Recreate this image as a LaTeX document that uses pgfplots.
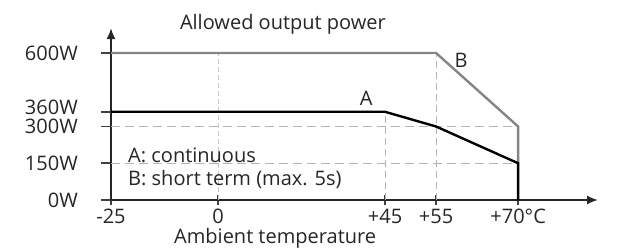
\documentclass[border=0pt]{standalone}
\usepackage{fontspec}
\setmainfont{Open Sans}
\usepackage{pgfplots}
\pgfplotsset{compat=1.18}
\usetikzlibrary{arrows.meta}
\definecolor{lineB}{HTML}{858585}
\definecolor{dashg}{HTML}{B4B4B4}
\begin{document}
\fontsize{20bp}{24bp}\selectfont
\begin{tikzpicture}
\begin{axis}[
  scale only axis, width=487bp, height=172bp,
  x coord trafo/.code={\pgfmathparse{ifthenelse((#1)<=0,((#1)+25)*4.28,ifthenelse((#1)<=45,107+(#1)*3.711,ifthenelse((#1)<=55,274+((#1)-45)*5.1,325+((#1)-55)*5.47)))}},
  xmin=-25, xmax=84.6, ymin=0, ymax=702,
  axis lines=left,
  axis line style={line width=1.8bp, draw=black!85, -{Latex[length=11bp,width=9bp]}},
  xtick={-25,0,45,55,70}, xticklabels={-25,0,+45,+55,+70°C},
  ytick={0,150,300,600},
  yticklabels={0W,150W,300W,600W},
  extra y ticks={360},
  extra y tick labels={360W},
  extra y tick style={yticklabel style={yshift=4bp}},
  major tick length=10bp,
  xtick align=center, ytick align=outside,
  tick style={line width=1.6bp, draw=black!75},
  tick label style={font=\fontsize{20bp}{24bp}\selectfont, text=black!85},
  yticklabel style={xshift=-23bp, anchor=east, inner sep=0pt},
  xticklabel style={yshift=3bp},
  clip=false,
]
\addplot[dashg, line width=1bp, dash pattern=on 9bp off 5bp] coordinates {(-25,300) (70,300)};
\addplot[dashg, line width=1bp, dash pattern=on 9bp off 5bp] coordinates {(-25,150) (70,150)};
\addplot[dashg!70, line width=1bp, dash pattern=on 5bp off 3bp] coordinates {(0,0) (0,600)};
\addplot[dashg, line width=1bp, dash pattern=on 7bp off 4bp] coordinates {(45,0) (45,360)};
\addplot[dashg, line width=1bp, dash pattern=on 7bp off 4bp] coordinates {(55,0) (55,600)};
\addplot[lineB, line width=2.4bp] coordinates {(-25,600) (55,600) (70,300) (70,150)};
\addplot[black, line width=2.4bp] coordinates {(-25,360) (45,360) (55,300) (70,150) (70,0)};
\node[text=black!85] at (rel axis cs:0.353,1.02) {Allowed output power};
\node[text=black!85] at (rel axis cs:0.337,-0.225) {Ambient temperature};
\node[anchor=west, text=black!85, inner sep=0pt] at (rel axis cs:0.035,0.262) {A: continuous};
\node[anchor=west, text=black!85, inner sep=0pt] at (rel axis cs:0.035,0.122) {B: short term (max. 5s)};
\node[text=black!85] at (rel axis cs:0.524,0.593) {A};
\node[text=black!85] at (rel axis cs:0.719,0.814) {B};
\coordinate (O) at (rel axis cs:0,0);
\end{axis}
\pgfresetboundingbox
\path (O) ++(-111bp,-52bp) rectangle ++(642bp,252bp);
\end{tikzpicture}
\end{document}
